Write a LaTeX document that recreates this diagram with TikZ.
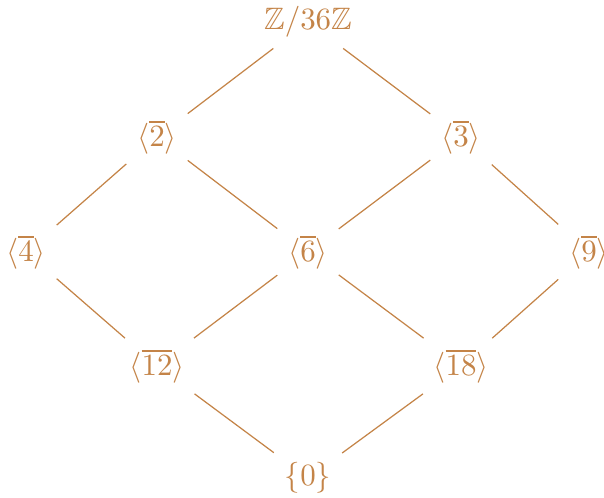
\documentclass[tikz,border=0pt]{standalone}
\usepackage{amsmath, amssymb}
\usepackage{xcolor}
\usepackage{tikz}
\definecolor{latorange}{RGB}{196,132,72}
\tikzset{every node/.append style={text=latorange}}

\begin{document}
\begin{tikzpicture}[x=0.01136cm, y=-0.01136cm, lat/.style={latorange, line width=0.4pt}]
    \useasboundingbox (0,0) rectangle (604,497);
    \node (G)   at (308,22)  {$\mathbb{Z}/36\mathbb{Z}$};
    \node (n2)  at (157,137) {$\langle\overline{2}\rangle$};
    \node (n3)  at (461,137) {$\langle\overline{3}\rangle$};
    \node (n4)  at (26,252)  {$\langle\overline{4}\rangle$};
    \node (n6)  at (308,252) {$\langle\overline{6}\rangle$};
    \node (n9)  at (589,252) {$\langle\overline{9}\rangle$};
    \node (n12) at (157,366) {$\langle\overline{12}\rangle$};
    \node (n18) at (461,366) {$\langle\overline{18}\rangle$};
    \node (n0)  at (308,478) {$\{0\}$};
    \draw[lat] (G) -- (n2);
    \draw[lat] (G) -- (n3);
    \draw[lat] (n2) -- (n4);
    \draw[lat] (n2) -- (n6);
    \draw[lat] (n3) -- (n6);
    \draw[lat] (n3) -- (n9);
    \draw[lat] (n4) -- (n12);
    \draw[lat] (n6) -- (n12);
    \draw[lat] (n6) -- (n18);
    \draw[lat] (n9) -- (n18);
    \draw[lat] (n12) -- (n0);
    \draw[lat] (n18) -- (n0);
\end{tikzpicture}
\end{document}
